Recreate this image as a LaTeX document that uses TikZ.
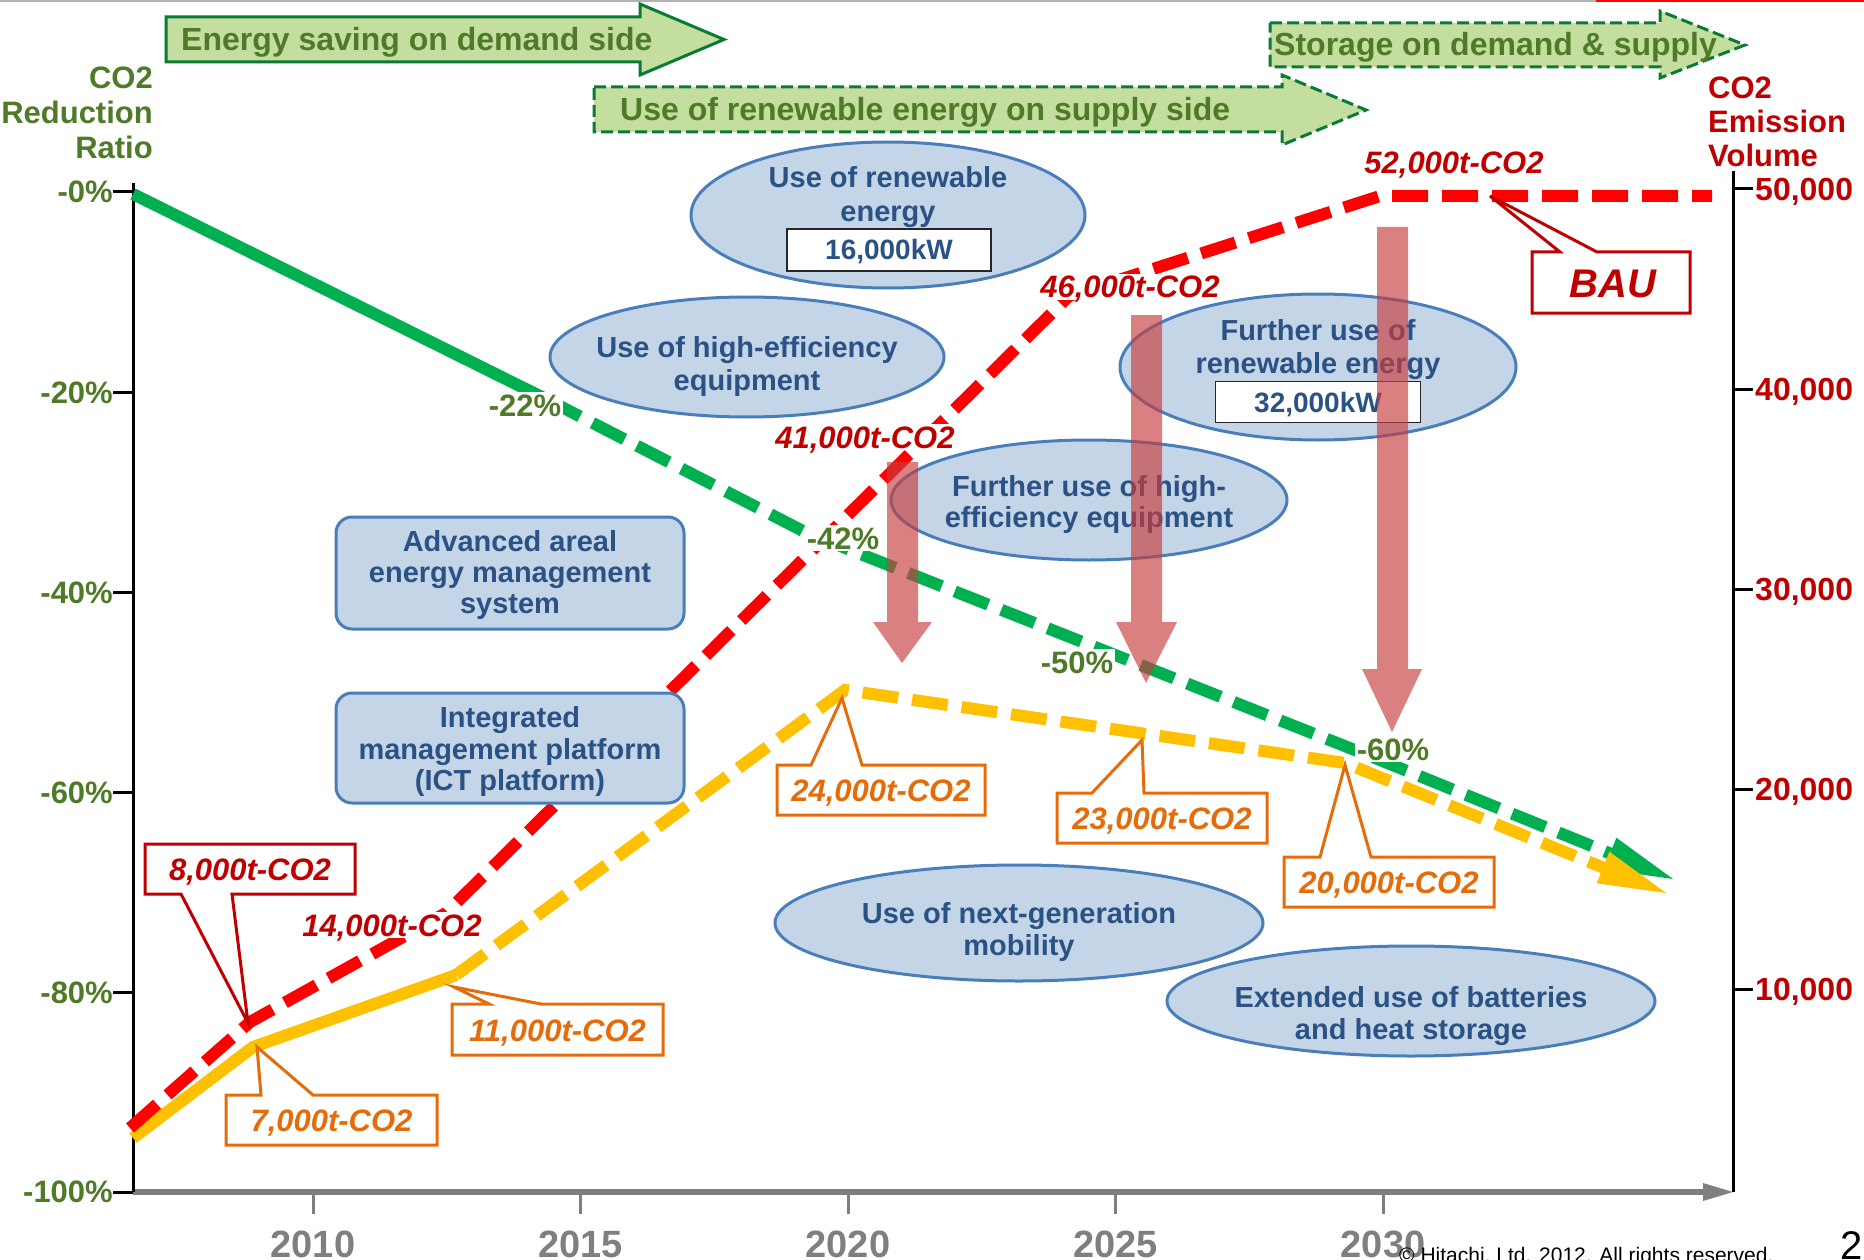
\documentclass[tikz,border=0pt]{standalone}
\usepackage{fontspec}
\setmainfont{Liberation Sans}
\usetikzlibrary{shapes.geometric}

\definecolor{co2olive}{HTML}{4F7A28}
\definecolor{co2red}{HTML}{C00000}
\definecolor{calloutorange}{HTML}{E46C0A}
\definecolor{bannerfill}{HTML}{C4DE9F}
\definecolor{banneredge}{HTML}{0A7A35}
\definecolor{trendgreen}{HTML}{00B050}
\definecolor{trendyellow}{HTML}{FFC000}
\definecolor{trendred}{HTML}{FF0000}
\definecolor{bubblefill}{HTML}{C4D5E8}
\definecolor{bubbleedge}{HTML}{4A7EBB}
\definecolor{bubbletext}{HTML}{2B5285}
\definecolor{cutarrow}{RGB}{200,60,60}
\definecolor{axisgrey}{HTML}{7F7F7F}

\begin{document}
\begin{tikzpicture}[x=1pt,y=-1pt,
  trend/.style={line width=12pt, line cap=butt, line join=miter},
  gapline/.style={dash pattern=on 36pt off 14pt},
  banner/.style={fill=bannerfill, draw=banneredge, line width=3pt, line join=miter},
  bannerdashed/.style={banner, dash pattern=on 12pt off 5pt},
  bannertext/.style={anchor=base west, inner sep=0pt, text=co2olive,
    font=\bfseries\fontsize{32}{32}\selectfont},
  ylab/.style={anchor=base east, inner sep=0pt, text=co2olive,
    font=\bfseries\fontsize{31}{31}\selectfont},
  rlab/.style={anchor=base west, inner sep=0pt, text=co2red,
    font=\bfseries\fontsize{32}{32}\selectfont},
  yearlab/.style={anchor=base, inner sep=0pt, text=axisgrey,
    font=\bfseries\fontsize{38}{38}\selectfont},
  pct/.style={fill=white, inner sep=2pt, text=co2olive, text height=22pt, text depth=0pt,
    font=\bfseries\fontsize{31}{31}\selectfont},
  redval/.style={fill=white, inner sep=2pt, text=co2red, text height=22pt, text depth=0pt,
    font=\bfseries\itshape\fontsize{31}{31}\selectfont},
  calloutred/.style={draw=co2red, fill=white, line width=3pt, line join=miter},
  calloutorange/.style={draw=calloutorange, fill=white, line width=3pt, line join=miter},
  orangeval/.style={inner sep=0pt, text=calloutorange, text height=22pt, text depth=0pt,
    font=\bfseries\itshape\fontsize{31}{31}\selectfont},
  bubble/.style={ellipse, draw=bubbleedge, fill=bubblefill, line width=3pt, inner sep=0pt},
  roundbox/.style={rectangle, draw=bubbleedge, fill=bubblefill, line width=3pt,
    rounded corners=16pt, inner sep=0pt},
  bubbletxt/.style={inner sep=0pt, align=center, text=bubbletext,
    font=\bfseries\fontsize{29}{32}\selectfont},
  kwbox/.style={rectangle, draw=black!85, fill=white, line width=1.8pt, inner sep=0pt,
    text=bubbletext, text height=20pt, text depth=0pt,
    font=\bfseries\fontsize{28}{28}\selectfont},
  cutdown/.style={fill=cutarrow, fill opacity=0.65}
]
\useasboundingbox (0,0) rectangle (1864,1260);
\clip (0,0) rectangle (1864,1260);
\fill[white] (0,0) rectangle (1864,1260);

% slide header rules
\coordinate (hdrL) at (0,1);
\coordinate (hdrM) at (1596,1);
\coordinate (hdrR) at (1864,1);
\draw[line width=2.5pt, black!30] (hdrL) -- (hdrM);
\draw[line width=2.5pt, trendred] (hdrM) -- (hdrR);

% ---------------- axes ----------------
\coordinate (lax0) at (133,183);
\coordinate (lax1) at (133,1192);
\coordinate (rax0) at (1733,171);
\coordinate (rax1) at (1733,1192);
\coordinate (xax0) at (133,1192);
\coordinate (xax1) at (1704,1192);
\coordinate (xtip) at (1733,1192);
\draw[line width=6pt, axisgrey] (xax0) -- (xax1);
\fill[axisgrey] (1703,1183) -- (xtip) -- (1703,1201) -- cycle;
\draw[line width=3pt] (lax0) -- (lax1);
\draw[line width=3pt] (rax0) -- (rax1);

\foreach \k in {0,...,5} {
  \draw[line width=3pt] (113,{192+200*\k}) -- (133,{192+200*\k});
}
\foreach \k in {0,...,4} {
  \draw[line width=3pt] (1733,{189+200*\k}) -- (1753,{189+200*\k});
  \draw[line width=3pt, axisgrey] ({313+267.5*\k},1195) -- ({313+267.5*\k},1214);
}

% left scale
\node[ylab] (yl0) at (113,203) {-0\%};
\node[ylab] (yl20) at (113,403) {-20\%};
\node[ylab] (yl40) at (113,603) {-40\%};
\node[ylab] (yl60) at (113,803) {-60\%};
\node[ylab] (yl80) at (113,1003) {-80\%};
\node[ylab] (yl100) at (113,1202) {-100\%};
\node[anchor=east, inner sep=0pt, align=right, text=co2olive,
  font=\bfseries\fontsize{31}{35}\selectfont] (ltitle) at (153,113) {CO2\\Reduction\\Ratio};

% right scale
\node[rlab] (rl50) at (1755,200.5) {50,000};
\node[rlab] (rl40) at (1755,400.5) {40,000};
\node[rlab] (rl30) at (1755,600.5) {30,000};
\node[rlab] (rl20) at (1755,800.5) {20,000};
\node[rlab] (rl10) at (1755,1000.5) {10,000};
\node[anchor=west, inner sep=0pt, align=left, text=co2red,
  font=\bfseries\fontsize{31}{34}\selectfont] (rtitle) at (1708,121.5) {CO2\\Emission\\Volume};

% years
\node[yearlab] (y2010) at (313,1257) {2010};
\node[yearlab] (y2015) at (580.5,1257) {2015};
\node[yearlab] (y2020) at (848,1257) {2020};
\node[yearlab] (y2025) at (1115.5,1257) {2025};
\node[yearlab] (y2030) at (1383,1257) {2030};

% ---------------- trend lines ----------------
% reduction ratio
\coordinate (g0) at (133,194);
\coordinate (g1) at (548,400);
\coordinate (g2) at (805,532);
\coordinate (g3) at (1380,760);
\coordinate (g4) at (1610,853.4);
\coordinate (gtip) at (1673,879);
\draw[trend, trendgreen] (g0) -- (g1);
\draw[trend, trendgreen, gapline] (g1) -- (g2) -- (g3) -- (g4);
\fill[trendgreen] (gtip) -- (1603.6,869.2) -- (1616.4,837.7) -- cycle;

% emissions with measures
\coordinate (yw0) at (133,1138);
\coordinate (yw1) at (253,1047);
\coordinate (yw2) at (456,975);
\coordinate (yw3) at (845,690);
\coordinate (yw4) at (1345,763);
\coordinate (yw5) at (1603,867.5);
\coordinate (ywtip) at (1666,893);
\draw[trend, trendyellow] (yw0) -- (yw1) -- (yw2);
\draw[trend, trendyellow, gapline] (yw2) -- (yw3) -- (yw4) -- (yw5);
\fill[trendyellow] (ywtip) -- (1596.6,883.3) -- (1609.4,851.7) -- cycle;

% business as usual
\coordinate (r0) at (130,1128);
\coordinate (r1) at (250,1022);
\coordinate (r2) at (446,913);
\coordinate (r3) at (1069,296);
\coordinate (r4) at (1380,196);
\coordinate (r5) at (1712,196);
\draw[trend, trendred, gapline] (r0) -- (r1) -- (r2) -- (r3) -- (r4) -- (r5);

% ---------------- labels on the lines ----------------
\node[pct] (p22) at (525,405) {-22\%};
\node[pct] (p42) at (843,538) {-42\%};
\node[pct] (p50) at (1077,662) {-50\%};
\node[pct] (p60) at (1393,749) {-60\%};

\node[redval] (v14) at (392,925) {14,000t-CO2};
\node[redval] (v41) at (865,437) {41,000t-CO2};
\node[redval] (v46) at (1130,287) {46,000t-CO2};
\node[redval, fill=none] (v52) at (1454,163) {52,000t-CO2};

% ---------------- measures ----------------
\node[roundbox, minimum width=348pt, minimum height=112pt] (aems) at (510,573) {};
\node[bubbletxt, font=\bfseries\fontsize{29}{31}\selectfont] (aemsT) at (510,575)
  {Advanced areal\\energy management\\system};
\node[roundbox, minimum width=348pt, minimum height=110pt] (icp) at (510,748) {};
\node[bubbletxt, font=\bfseries\fontsize{29}{31.5}\selectfont] (icpT) at (510,751.5)
  {Integrated\\management platform\\(ICT platform)};

\node[bubble, minimum width=394pt, minimum height=146pt] (ren1) at (888,215) {};
\node[bubbletxt, font=\bfseries\fontsize{29}{34}\selectfont] (ren1T) at (888,197)
  {Use of renewable\\energy};
\node[kwbox, minimum width=204pt, minimum height=42pt] (ren1kw) at (889,250) {16,000kW};

\node[bubble, minimum width=394pt, minimum height=120pt] (eff1) at (747,357) {};
\node[bubbletxt, font=\bfseries\fontsize{29}{33}\selectfont] (eff1T) at (747,366.5)
  {Use of high-efficiency\\equipment};

\node[bubble, minimum width=396pt, minimum height=120pt] (eff2) at (1089,500) {};
\node[bubbletxt, font=\bfseries\fontsize{29}{31}\selectfont] (eff2T) at (1089,504.5)
  {Further use of high-\\efficiency equipment};

\node[bubble, minimum width=396pt, minimum height=146pt] (ren2) at (1318,367) {};
\node[bubbletxt, font=\bfseries\fontsize{29}{33}\selectfont] (ren2T) at (1318,349.5)
  {Further use of\\renewable energy};
\node[kwbox, minimum width=205pt, minimum height=41pt] (ren2kw) at (1318,402) {32,000kW};

\node[bubble, minimum width=488pt, minimum height=116pt] (mob) at (1019,923) {};
\node[bubbletxt] (mobT) at (1019,932) {Use of next-generation\\mobility};

\node[bubble, minimum width=488pt, minimum height=110pt] (bat) at (1411,1001) {};
\node[bubbletxt] (batT) at (1411,1016) {Extended use of batteries\\and heat storage};

% ---------------- callouts ----------------
\draw[calloutred] (145,844) -- (355,844) -- (355,894) -- (232,894) -- (248,1023)
  -- (181,894) -- (145,894) -- cycle;
\node[redval, fill=none, inner sep=0pt] (c8) at (250,869) {8,000t-CO2};

\draw[calloutred] (1532,252) -- (1560,252) -- (1490,196) -- (1597,252) -- (1690,252)
  -- (1690,313) -- (1532,313) -- cycle;
\node[inner sep=0pt, text=co2red, text height=29pt, text depth=0pt,
  font=\bfseries\itshape\fontsize{40}{40}\selectfont] (bau) at (1613,283) {BAU};

\draw[calloutorange] (226,1095) -- (261,1095) -- (257,1047) -- (313,1095) -- (437,1095)
  -- (437,1145) -- (226,1145) -- cycle;
\node[orangeval] (c7) at (331.5,1120) {7,000t-CO2};

\draw[calloutorange] (452,1004) -- (489,1004) -- (454,987) -- (541,1004) -- (663,1004)
  -- (663,1055) -- (452,1055) -- cycle;
\node[orangeval] (c11) at (557.5,1030) {11,000t-CO2};

\draw[calloutorange] (777,765) -- (811,765) -- (842,698) -- (862,765) -- (985,765)
  -- (985,815) -- (777,815) -- cycle;
\node[orangeval] (c24) at (881,790) {24,000t-CO2};

\draw[calloutorange] (1057,793) -- (1092,793) -- (1142,740) -- (1144,793) -- (1267,793)
  -- (1267,843) -- (1057,843) -- cycle;
\node[orangeval] (c23) at (1162,818) {23,000t-CO2};

\draw[calloutorange] (1284,857) -- (1320,857) -- (1345,765) -- (1371,857) -- (1494,857)
  -- (1494,907) -- (1284,907) -- cycle;
\node[orangeval] (c20) at (1389,882) {20,000t-CO2};

% ---------------- phase banners ----------------
\draw[banner] (166,17) -- (640,17) -- (640,4) -- (724,39.5) -- (640,75) -- (640,62)
  -- (166,62) -- cycle;
\node[bannertext] (b1) at (181,51) {Energy saving on demand side};

\draw[bannerdashed] (594,87) -- (1282,87) -- (1282,75) -- (1366,110) -- (1282,145)
  -- (1282,132) -- (594,132) -- cycle;
\node[bannertext] (b2) at (620,121) {Use of renewable energy on supply side};

\draw[bannerdashed] (1270,23) -- (1660,23) -- (1660,11) -- (1745,45) -- (1660,78)
  -- (1660,67) -- (1270,67) -- cycle;
\node[bannertext] (b3) at (1274,56) {Storage on demand \& supply};

% ---------------- reduction arrows ----------------
\fill[cutdown] (887,462) -- (918,462) -- (918,622) -- (932,622) -- (902,663)
  -- (873,622) -- (887,622) -- cycle;
\fill[cutdown] (1131,315) -- (1162,315) -- (1162,622) -- (1177,622) -- (1146,683)
  -- (1116,622) -- (1131,622) -- cycle;
\fill[cutdown] (1377,227) -- (1408,227) -- (1408,669) -- (1422,669) -- (1392,732)
  -- (1362,669) -- (1377,669) -- cycle;

% ---------------- footer ----------------
\node[anchor=base west, inner sep=0pt, font=\fontsize{21}{21}\selectfont] (copy)
  at (1399,1262) {© Hitachi, Ltd. 2012. All rights reserved.};
\node[anchor=base west, inner sep=0pt, font=\fontsize{40}{40}\selectfont] (page)
  at (1840,1259) {2};
\end{tikzpicture}
\end{document}
